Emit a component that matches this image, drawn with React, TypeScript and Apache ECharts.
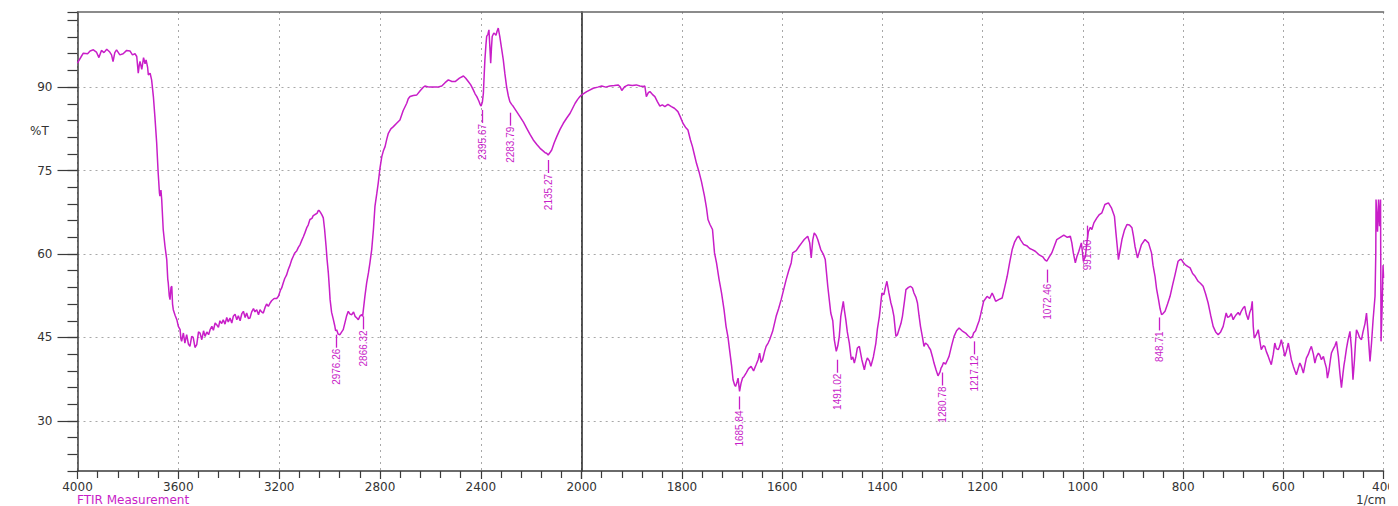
import React, { useEffect, useRef } from "react";
import * as echarts from "echarts";

// ---- Data ----
// FTIR spectrum, high-wavenumber part (4000 → 2000 cm-1): [wavenumber, %T]
const spectrumHigh: [number, number][] = [
  [4000, 94.3], [3997, 94.6], [3985, 95.5], [3977, 96.1], [3960, 96.0], [3950, 96.5], [3937, 96.7], [3925, 96.3],
  [3915, 95.3], [3905, 96.6], [3895, 96.2], [3884, 96.8], [3872, 96.3], [3865, 95.8], [3859, 94.6], [3852, 96.2],
  [3845, 96.7], [3832, 95.8], [3819, 96.0], [3805, 96.6], [3792, 96.5], [3782, 95.8], [3772, 96.0], [3765, 95.5],
  [3759, 92.5], [3755, 94.0], [3752, 94.6], [3745, 93.2], [3738, 95.3], [3732, 94.2], [3728, 94.9], [3722, 93.6],
  [3719, 92.2], [3712, 92.5], [3706, 91.3], [3699, 88.3], [3693, 84.7], [3686, 80.0], [3680, 74.6], [3675, 71.0],
  [3673, 70.4], [3669, 71.5], [3666, 69.8], [3660, 64.4], [3653, 61.4], [3646, 59.0], [3642, 55.5], [3640, 54.8],
  [3636, 52.5], [3633, 51.8], [3629, 54.0], [3626, 54.2], [3623, 51.0], [3620, 50.0], [3613, 49.0], [3606, 48.2],
  [3600, 47.0], [3593, 46.4], [3590, 44.8], [3587, 44.3], [3580, 45.8], [3574, 44.0], [3567, 45.5], [3560, 43.8],
  [3554, 43.4], [3547, 45.2], [3541, 45.0], [3534, 43.2], [3527, 43.7], [3520, 46.0], [3514, 45.8], [3507, 44.6],
  [3500, 46.2], [3494, 45.2], [3487, 46.0], [3480, 45.5], [3474, 46.4], [3467, 47.0], [3461, 46.3], [3454, 47.6],
  [3448, 47.3], [3441, 46.8], [3435, 48.0], [3428, 47.5], [3422, 48.2], [3415, 47.4], [3408, 48.6], [3402, 47.8],
  [3395, 48.5], [3388, 47.6], [3382, 48.8], [3375, 49.2], [3368, 48.2], [3362, 48.9], [3355, 48.0], [3348, 49.3],
  [3342, 49.7], [3335, 48.6], [3329, 49.4], [3322, 48.4], [3316, 48.5], [3309, 49.6], [3302, 50.2], [3296, 49.6],
  [3289, 50.0], [3282, 49.1], [3276, 50.0], [3270, 49.6], [3263, 49.4], [3256, 50.4], [3250, 51.0], [3243, 50.6],
  [3236, 51.2], [3230, 51.6], [3220, 52.0], [3210, 52.0], [3203, 52.4], [3195, 53.5], [3190, 53.9], [3184, 54.8],
  [3178, 55.6], [3171, 56.2], [3164, 57.2], [3157, 58.0], [3150, 59.0], [3144, 59.6], [3138, 60.2], [3130, 60.6],
  [3124, 61.2], [3117, 61.7], [3110, 62.5], [3104, 63.1], [3098, 63.8], [3090, 64.8], [3085, 65.2], [3078, 66.2],
  [3070, 66.4], [3065, 66.9], [3058, 67.1], [3050, 67.3], [3045, 67.8], [3041, 67.8], [3035, 67.4], [3030, 67.0],
  [3025, 66.5], [3020, 64.5], [3014, 61.4], [3010, 59.0], [3005, 56.6], [3001, 54.0], [2998, 51.8], [2992, 49.5],
  [2985, 48.2], [2980, 47.2], [2976, 46.2], [2972, 46.4], [2966, 45.6], [2959, 45.5], [2952, 46.0], [2946, 46.4],
  [2940, 47.5], [2933, 48.8], [2926, 49.7], [2919, 49.2], [2912, 49.1], [2905, 49.6], [2899, 48.8], [2892, 48.5],
  [2886, 48.2], [2879, 48.9], [2873, 49.1], [2869, 48.8], [2866, 50.0], [2860, 52.4], [2853, 54.8], [2846, 56.6],
  [2840, 58.4], [2833, 60.8], [2826, 64.5], [2820, 68.6], [2813, 70.8], [2807, 72.8], [2800, 75.5], [2793, 77.5],
  [2787, 78.5], [2780, 79.3], [2773, 80.7], [2767, 81.7], [2757, 82.5], [2747, 82.9], [2734, 83.5], [2721, 84.1],
  [2708, 85.8], [2694, 87.1], [2688, 87.9], [2681, 88.3], [2668, 88.5], [2654, 88.6], [2640, 89.4], [2630, 89.9],
  [2622, 90.2], [2605, 90.0], [2589, 90.0], [2572, 90.0], [2555, 90.2], [2542, 90.8], [2529, 91.3], [2515, 91.0],
  [2502, 91.0], [2485, 91.6], [2469, 92.0], [2460, 91.6], [2450, 91.0], [2440, 90.4], [2430, 89.5], [2423, 88.8],
  [2416, 88.3], [2408, 87.5], [2402, 86.8], [2399, 86.6], [2394, 87.3], [2390, 88.9], [2387, 92.0], [2384, 94.9],
  [2380, 97.5], [2377, 99.1], [2372, 99.5], [2368, 100.3], [2364, 97.0], [2361, 94.3], [2358, 97.0], [2355, 99.1],
  [2350, 99.6], [2347, 99.7], [2340, 99.3], [2336, 100.0], [2331, 100.6], [2325, 99.1], [2318, 97.0], [2311, 94.9],
  [2305, 92.5], [2298, 90.1], [2291, 88.4], [2285, 87.4], [2278, 86.9], [2271, 86.5], [2258, 85.6], [2245, 84.7],
  [2231, 83.7], [2218, 82.6], [2205, 81.5], [2192, 80.5], [2178, 79.7], [2165, 79.0], [2152, 78.5], [2145, 78.2],
  [2139, 78.1], [2133, 77.8], [2125, 78.3], [2119, 78.7], [2109, 80.0], [2099, 81.1], [2086, 82.4], [2073, 83.5],
  [2060, 84.4], [2046, 85.3], [2036, 86.2], [2026, 87.1], [2016, 87.8], [2007, 88.3], [2000, 88.6],
];

// FTIR spectrum, fingerprint part (2000 → 400 cm-1): [wavenumber, %T]
const spectrumLow: [number, number][] = [
  [2000, 88.6], [1990, 89.2], [1977, 89.8], [1968, 90.0], [1960, 90.2], [1952, 90.0], [1944, 90.2], [1935, 90.3],
  [1927, 90.4], [1923, 90.0], [1920, 89.4], [1914, 90.1], [1907, 90.4], [1899, 90.3], [1891, 90.4], [1884, 90.2],
  [1877, 90.1], [1874, 90.2], [1871, 88.3], [1867, 89.0], [1864, 89.2], [1859, 88.7], [1854, 88.3], [1849, 87.4],
  [1844, 86.6], [1839, 86.8], [1834, 86.5], [1828, 86.9], [1821, 86.5], [1815, 86.2], [1808, 85.6], [1803, 84.6],
  [1798, 83.5], [1793, 82.8], [1788, 82.3], [1783, 80.5], [1779, 79.3], [1775, 77.8], [1771, 76.3], [1766, 74.8],
  [1761, 73.0], [1758, 71.7], [1755, 70.4], [1751, 68.3], [1748, 66.2], [1744, 65.3], [1739, 64.4], [1735, 60.2],
  [1731, 58.4], [1726, 55.5], [1721, 53.0], [1716, 50.0], [1712, 47.0], [1708, 45.0], [1705, 42.8], [1701, 40.0],
  [1698, 37.4], [1695, 36.5], [1693, 36.2], [1690, 37.0], [1688, 37.7], [1685, 35.3], [1682, 36.8], [1679, 37.7],
  [1676, 38.0], [1672, 38.6], [1667, 39.4], [1662, 39.8], [1657, 39.0], [1652, 40.1], [1648, 41.0], [1645, 42.2],
  [1642, 40.5], [1639, 41.0], [1635, 42.5], [1632, 43.4], [1628, 44.0], [1625, 44.6], [1619, 46.1], [1612, 48.8],
  [1607, 50.2], [1602, 51.8], [1597, 53.6], [1592, 55.4], [1587, 57.0], [1582, 58.4], [1579, 60.2], [1572, 60.6],
  [1566, 61.4], [1561, 62.0], [1556, 62.6], [1549, 63.2], [1545, 62.0], [1542, 59.3], [1539, 62.5], [1536, 63.8],
  [1532, 63.3], [1529, 62.6], [1523, 60.8], [1518, 60.0], [1514, 59.0], [1509, 54.2], [1505, 51.0], [1503, 49.4],
  [1499, 48.0], [1496, 44.6], [1492, 42.5], [1489, 43.5], [1486, 45.2], [1483, 48.8], [1478, 51.5], [1476, 50.0],
  [1473, 48.2], [1470, 46.0], [1466, 44.0], [1462, 41.0], [1459, 41.5], [1456, 40.4], [1453, 41.5], [1450, 43.1],
  [1446, 43.4], [1441, 41.0], [1436, 39.2], [1433, 40.5], [1430, 41.3], [1426, 40.8], [1423, 39.8], [1418, 41.5],
  [1413, 44.0], [1410, 46.5], [1406, 48.8], [1401, 53.0], [1397, 52.7], [1394, 54.0], [1391, 55.1], [1387, 53.0],
  [1383, 51.2], [1380, 50.2], [1377, 48.8], [1373, 45.2], [1370, 45.5], [1367, 46.4], [1363, 47.5], [1360, 48.8],
  [1356, 51.5], [1353, 53.6], [1348, 54.0], [1344, 54.2], [1340, 53.9], [1337, 53.0], [1333, 52.2], [1330, 51.2],
  [1327, 49.0], [1324, 47.0], [1320, 45.0], [1317, 43.4], [1314, 44.0], [1310, 43.7], [1307, 43.2], [1304, 42.8],
  [1300, 41.5], [1297, 40.4], [1293, 39.2], [1289, 38.1], [1285, 38.8], [1283, 39.5], [1281, 39.8], [1278, 40.5],
  [1274, 40.2], [1270, 41.0], [1267, 41.6], [1262, 43.5], [1257, 45.2], [1252, 46.2], [1247, 46.7], [1241, 46.2],
  [1234, 45.8], [1229, 45.3], [1224, 44.9], [1220, 45.2], [1218, 45.8], [1214, 46.2], [1211, 47.0], [1207, 48.0],
  [1204, 49.1], [1201, 50.3], [1198, 51.5], [1194, 52.0], [1191, 52.4], [1186, 52.0], [1181, 53.0], [1177, 52.2],
  [1174, 51.5], [1168, 51.8], [1161, 52.1], [1156, 54.0], [1151, 56.0], [1146, 58.5], [1141, 60.8], [1136, 62.2],
  [1131, 63.0], [1128, 63.2], [1124, 62.5], [1118, 61.7], [1112, 61.5], [1106, 61.0], [1101, 60.8], [1095, 60.5],
  [1088, 59.9], [1080, 59.5], [1076, 59.0], [1072, 58.7], [1067, 59.5], [1062, 60.2], [1057, 61.4], [1052, 62.6],
  [1045, 63.0], [1038, 63.4], [1031, 63.0], [1025, 63.2], [1022, 62.0], [1019, 60.2], [1015, 58.4], [1012, 59.5],
  [1008, 60.5], [1003, 62.0], [1001, 60.5], [999, 58.7], [995, 59.5], [992, 62.0], [989, 64.0], [985, 64.8],
  [982, 64.4], [978, 65.6], [972, 66.5], [967, 67.1], [962, 67.4], [956, 68.9], [949, 69.2], [943, 68.3],
  [937, 66.8], [934, 63.8], [931, 61.0], [929, 59.0], [926, 60.5], [922, 62.6], [917, 64.3], [912, 65.3],
  [907, 65.2], [902, 64.7], [899, 63.2], [896, 61.4], [891, 59.3], [887, 60.5], [883, 61.7], [876, 62.6],
  [869, 62.0], [863, 60.2], [860, 58.0], [856, 56.0], [853, 53.8], [849, 51.8], [846, 50.2], [843, 49.1],
  [840, 49.3], [836, 49.7], [831, 51.0], [826, 52.4], [821, 54.4], [816, 56.3], [813, 57.5], [810, 58.7],
  [806, 59.0], [803, 59.0], [800, 58.5], [796, 58.1], [791, 57.8], [786, 57.5], [781, 56.5], [776, 56.0],
  [770, 55.1], [765, 54.7], [760, 54.2], [755, 52.8], [750, 51.2], [745, 49.0], [740, 47.0], [735, 46.0],
  [730, 45.5], [725, 46.0], [720, 47.0], [717, 48.2], [714, 49.4], [711, 48.6], [707, 48.8], [704, 49.3],
  [700, 48.2], [697, 48.7], [694, 49.1], [690, 49.5], [687, 49.0], [684, 49.7], [680, 50.3], [677, 50.6],
  [674, 49.2], [670, 48.2], [667, 49.5], [664, 50.2], [662, 51.5], [660, 47.0], [658, 44.9], [654, 45.5],
  [650, 46.4], [647, 44.5], [644, 42.8], [640, 43.5], [637, 43.4], [634, 42.5], [630, 41.6], [627, 40.8],
  [624, 40.1], [620, 42.0], [617, 44.0], [614, 43.0], [610, 42.8], [607, 43.5], [604, 44.6], [600, 43.0],
  [597, 41.6], [594, 42.5], [590, 44.0], [587, 42.5], [584, 41.0], [580, 39.8], [577, 39.0], [574, 38.3],
  [570, 39.5], [567, 40.4], [564, 39.8], [560, 38.6], [557, 40.0], [554, 41.3], [550, 42.0], [547, 42.8],
  [544, 43.4], [540, 42.0], [537, 40.4], [534, 41.5], [530, 42.2], [527, 41.8], [524, 41.0], [520, 41.6],
  [517, 40.5], [514, 39.5], [512, 37.7], [509, 39.0], [506, 41.0], [504, 42.2], [500, 43.0], [497, 43.5],
  [494, 44.3], [490, 41.5], [487, 38.5], [484, 36.0], [481, 38.5], [479, 40.0], [477, 41.1], [474, 43.0],
  [471, 44.5], [467, 46.1], [464, 43.0], [461, 37.4], [458, 41.0], [456, 44.0], [454, 46.4], [451, 45.8],
  [448, 45.0], [444, 44.6], [441, 46.0], [437, 47.5], [434, 49.4], [431, 46.0], [427, 40.7], [424, 44.0],
  [421, 48.0], [417, 52.4], [415.5, 60.0], [415, 69.8], [412, 64.0], [410, 69.8], [408, 65.0], [406, 69.8],
  [405, 44.3], [403, 50.0], [401, 58.0], [400, 55.7],
];

// Peak annotations
const peakWavenumbers = [2976.26, 2866.32, 2395.67, 2283.79, 2135.27, 1685.84, 1491.02, 1280.78, 1217.12, 1072.46, 991.0, 848.71];
const peakMarkerTop = [45.5, 48.8, 85.9, 85.4, 76.9, 34.4, 41.0, 38.7, 44.3, 57.2, 65.1, 48.6];

// Axis ticks
const yMajorTicks = [30, 45, 60, 75, 90];

const MAGENTA = "#c81ec8";
const AXIS_COLOR = "#3a3a3a";
const GRID_COLOR = "#a8a8a8";
const LABEL_FONT = "DejaVu Sans";

export default function App() {
  const ref = useRef<HTMLDivElement>(null);

  useEffect(() => {
    if (!ref.current) return;
    const chart = echarts.init(ref.current, undefined, { renderer: "svg" });

    const peaks = peakWavenumbers.map((w, i) => [w, peakMarkerTop[i], w.toFixed(2)]);
    const peaksHigh = peaks.filter((p) => (p[0] as number) >= 2000);
    const peaksLow = peaks.filter((p) => (p[0] as number) < 2000);

    const makeRenderPeak = (list: any[]) => (params: any, api: any) => {
      const p = api.coord([api.value(0), api.value(1)]);
      const x = Math.round(p[0]) + 0.5;
      const y = p[1];
      const label = list[params.dataIndexInside][2];
      return {
        type: "group",
        children: [
          {
            type: "line",
            shape: { x1: x, y1: y, x2: x, y2: y + 13 },
            style: { stroke: MAGENTA, lineWidth: 1.3 },
          },
          {
            type: "text",
            x: x,
            y: y + 14,
            rotation: Math.PI / 2,
            style: {
              text: label,
              align: "right",
              verticalAlign: "middle",
              fill: MAGENTA,
              fontSize: 10,
              fontFamily: "Liberation Sans",
            },
          },
        ],
      };
    };

    const splitStyle = { show: true, lineStyle: { color: GRID_COLOR, type: [2, 4] as any, width: 1 } };
    const grids = [
      { left: 77.5, top: 12, width: 504.2, height: 459 },
      { left: 581.7, top: 12, width: 804.3, height: 459 },
    ];

    const bottomX = (gridIndex: number, min: number, max: number, interval: number, extraLabel: any = {}) => ({
      type: "value",
      gridIndex,
      min,
      max,
      interval,
      inverse: true,
      position: "bottom",
      axisLine: { show: true, onZero: false, lineStyle: { color: AXIS_COLOR, width: 1.5 } },
      axisTick: { show: true, length: 8, lineStyle: { color: AXIS_COLOR, width: 1.2 } },
      minorTick: { show: true, splitNumber: 5, length: 7, lineStyle: { color: AXIS_COLOR, width: 1.2 } },
      axisLabel: {
        margin: 10,
        color: "#333",
        fontSize: 12,
        fontFamily: LABEL_FONT,
        formatter: (v: number) => String(v),
        ...extraLabel,
      },
      splitLine: splitStyle,
    });

    const topX = (gridIndex: number, min: number, max: number) => ({
      type: "value",
      gridIndex,
      min,
      max,
      inverse: true,
      position: "top",
      axisLine: { show: true, onZero: false, lineStyle: { color: "#666", width: 1.5 } },
      axisTick: { show: false },
      axisLabel: { show: false },
      splitLine: { show: false },
    });

    const option: any = {
      animation: false,
      backgroundColor: "#ffffff",
      grid: grids,
      xAxis: [
        bottomX(0, 2000, 4000, 400),
        bottomX(1, 400, 2000, 200, { showMaxLabel: false }),
        topX(0, 2000, 4000),
        topX(1, 400, 2000),
      ],
      yAxis: [
        {
          type: "value",
          gridIndex: 0,
          position: "left",
          min: 21,
          max: 103.5,
          interval: 3,
          axisLine: { show: true, onZero: false, lineStyle: { color: AXIS_COLOR, width: 1.5 } },
          axisTick: { show: true, length: 10, lineStyle: { color: AXIS_COLOR, width: 1.2 } },
          axisLabel: { show: false },
          splitLine: { show: false },
        },
        {
          type: "value",
          gridIndex: 0,
          position: "left",
          offset: 0,
          min: 21,
          max: 103.5,
          axisLine: { show: false, onZero: false },
          axisTick: { show: true, length: 20, customValues: yMajorTicks, lineStyle: { color: AXIS_COLOR, width: 1.2 } },
          axisLabel: {
            show: true,
            customValues: yMajorTicks,
            margin: 25,
            color: "#333",
            fontSize: 12,
            fontFamily: LABEL_FONT,
            formatter: (v: number) => String(v),
          },
          splitLine: splitStyle,
        },
        {
          type: "value",
          gridIndex: 1,
          position: "left",
          min: 21,
          max: 103.5,
          axisLine: { show: true, onZero: false, lineStyle: { color: "#222", width: 1.5 } },
          axisTick: { show: false, customValues: yMajorTicks },
          axisLabel: { show: false, customValues: yMajorTicks },
          splitLine: splitStyle,
        },
      ],
      series: [
        {
          type: "line",
          xAxisIndex: 0,
          yAxisIndex: 0,
          data: spectrumHigh,
          showSymbol: false,
          symbol: "none",
          lineStyle: { color: MAGENTA, width: 1.5 },
          z: 5,
        },
        {
          type: "line",
          xAxisIndex: 1,
          yAxisIndex: 2,
          data: spectrumLow,
          showSymbol: false,
          symbol: "none",
          lineStyle: { color: MAGENTA, width: 1.5 },
          z: 5,
        },
        {
          type: "custom",
          xAxisIndex: 0,
          yAxisIndex: 0,
          data: peaksHigh.map((p) => [p[0], p[1]]),
          renderItem: makeRenderPeak(peaksHigh),
          clip: false,
          z: 6,
        },
        {
          type: "custom",
          xAxisIndex: 1,
          yAxisIndex: 2,
          data: peaksLow.map((p) => [p[0], p[1]]),
          renderItem: makeRenderPeak(peaksLow),
          clip: false,
          z: 6,
        },
      ],
      graphic: [
        {
          type: "text",
          left: 30,
          top: 125,
          style: { text: "%T", fill: "#333", fontSize: 12, fontFamily: LABEL_FONT },
        },
        {
          type: "text",
          left: 77,
          top: 494,
          style: { text: "FTIR Measurement", fill: MAGENTA, fontSize: 12, fontFamily: LABEL_FONT },
        },
        {
          type: "text",
          left: 1356,
          top: 494,
          style: { text: "1/cm", fill: "#333", fontSize: 12, fontFamily: LABEL_FONT },
        },
        {
          type: "rect",
          left: 1389,
          top: 0,
          z: 100,
          shape: { width: 9, height: 506 },
          style: { fill: "#ffffff" },
        },
      ],
    };

    chart.setOption(option);
    return () => chart.dispose();
  }, []);

  return (
    <div
      ref={ref}
      style={{ position: "absolute", left: 0, top: 0, width: 1398, height: 506, background: "#fff" }}
    />
  );
}
